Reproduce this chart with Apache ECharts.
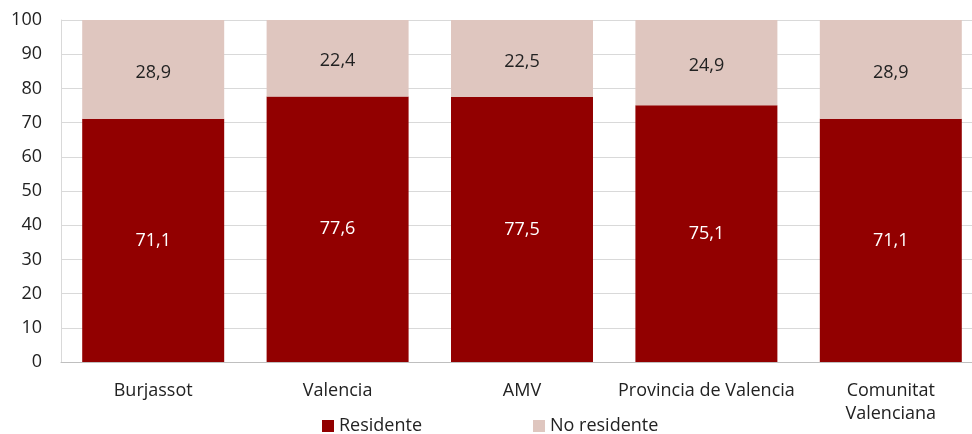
<!DOCTYPE html>
<html>
<head>
<meta charset="utf-8">
<script src="https://cdn.jsdelivr.net/npm/echarts@6/dist/echarts.min.js"></script>
<style>
html, body { margin: 0; padding: 0; background: #fff; overflow: hidden; }
#chart { width: 972px; height: 434px; }
</style>
</head>
<body>
<div id="chart"></div>
<script>
var categories = ['Burjassot', 'Valencia', 'AMV', 'Provincia de Valencia', 'Comunitat\nValenciana'];
var residente = [71.1, 77.6, 77.5, 75.1, 71.1];
var noResidente = [28.9, 22.4, 22.5, 24.9, 28.9];

var fmt = function (p) { return String(p.value.toFixed(1)).replace('.', ','); };

var option = {
    animation: false,
    textStyle: { fontFamily: 'Open Sans', color: '#222' },
    grid: { left: 61, width: 922, top: 20, height: 342, outerBoundsMode: 'none' },
    legend: {
        top: 412,
        left: 317,
        itemWidth: 12,
        itemHeight: 12,
        itemGap: 111,
        icon: 'rect',
        textStyle: { fontSize: 18, color: '#222', fontFamily: 'Open Sans' },
        data: ['Residente', 'No residente']
    },
    xAxis: {
        type: 'category',
        data: categories,
        axisLine: { lineStyle: { color: '#bfbfbf' } },
        axisTick: { show: false },
        axisLabel: { fontSize: 18, color: '#222', margin: 17, lineHeight: 23, interval: 0 }
    },
    yAxis: {
        type: 'value',
        min: 0,
        max: 100,
        interval: 10,
        axisLine: { show: true, lineStyle: { color: '#d9d9d9' } },
        axisTick: { show: false },
        splitLine: { lineStyle: { color: '#d9d9d9' } },
        axisLabel: { fontSize: 18, color: '#222', margin: 19 }
    },
    series: [
        {
            name: 'Residente',
            type: 'bar',
            stack: 'total',
            barWidth: '77%',
            itemStyle: { color: '#920000' },
            label: { show: true, position: 'inside', color: '#fff', fontSize: 18, formatter: fmt },
            data: residente
        },
        {
            name: 'No residente',
            type: 'bar',
            stack: 'total',
            itemStyle: { color: '#dfc6bf' },
            label: { show: true, position: 'inside', offset: [0, 3], color: '#222', fontSize: 18, formatter: fmt },
            data: noResidente
        }
    ]
};

echarts.init(document.getElementById('chart')).setOption(option);
</script>
</body>
</html>
